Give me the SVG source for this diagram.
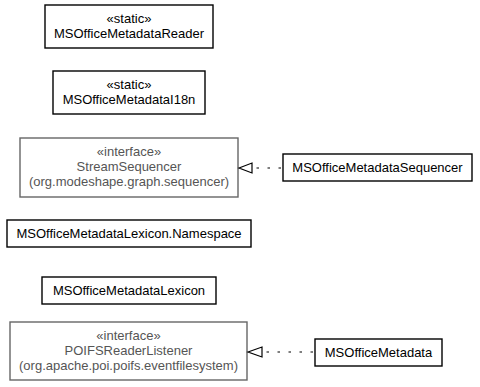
<svg xmlns="http://www.w3.org/2000/svg" width="480" height="387" viewBox="0 0 480 387">
<defs>
<style>
.box{fill:#fff;stroke:#000;stroke-width:1.4}
.ibox{fill:#fff;stroke:#666;stroke-width:1.4}
text{font-family:"Liberation Sans",Arial,sans-serif;font-size:13px;text-anchor:middle;fill:#000}
.g text{fill:#555}
.edge{stroke:#000;stroke-width:1.2;fill:none;stroke-dasharray:2.5,8.5}
.head{fill:#fff;stroke:#000;stroke-width:1.2}
</style>
</defs>
<rect width="480" height="387" fill="#fff"/>
<g id="MSOfficeMetadataReader">
<rect class="box" x="45" y="5" width="168" height="43"/>
<text x="129" y="23">«static»</text>
<text x="129" y="38">MSOfficeMetadataReader</text>
</g>
<g id="MSOfficeMetadataI18n">
<rect class="box" x="53" y="71" width="152" height="43"/>
<text x="129" y="89">«static»</text>
<text x="129" y="104">MSOfficeMetadataI18n</text>
</g>
<g id="StreamSequencer" class="g">
<rect class="ibox" x="20" y="138" width="218" height="59"/>
<text x="129" y="156">«interface»</text>
<text x="129" y="171">StreamSequencer</text>
<text x="129" y="186">(org.modeshape.graph.sequencer)</text>
</g>
<g id="MSOfficeMetadataSequencer">
<rect class="box" x="283" y="154" width="189" height="27"/>
<text x="377.5" y="172">MSOfficeMetadataSequencer</text>
</g>
<g id="MSOfficeMetadataLexicon.Namespace">
<rect class="box" x="7" y="220" width="244" height="27"/>
<text x="129" y="238">MSOfficeMetadataLexicon.Namespace</text>
</g>
<g id="MSOfficeMetadataLexicon">
<rect class="box" x="42" y="277" width="174" height="27"/>
<text x="129" y="295">MSOfficeMetadataLexicon</text>
</g>
<g id="POIFSReaderListener" class="g">
<rect class="ibox" x="10" y="322" width="237" height="58"/>
<text x="128.5" y="340">«interface»</text>
<text x="128.5" y="355">POIFSReaderListener</text>
<text x="128.5" y="370">(org.apache.poi.poifs.eventfilesystem)</text>
</g>
<g id="MSOfficeMetadata">
<rect class="box" x="315" y="339" width="127" height="27"/>
<text x="378.5" y="357">MSOfficeMetadata</text>
</g>
<g id="connectors">
<line class="edge" x1="281" y1="168" x2="252" y2="168"/>
<polygon class="head" points="239,168 252,163 252,173"/>
<line class="edge" x1="313" y1="352" x2="262" y2="352"/>
<polygon class="head" points="248,352 262,347 262,357"/>
</g>
</svg>
